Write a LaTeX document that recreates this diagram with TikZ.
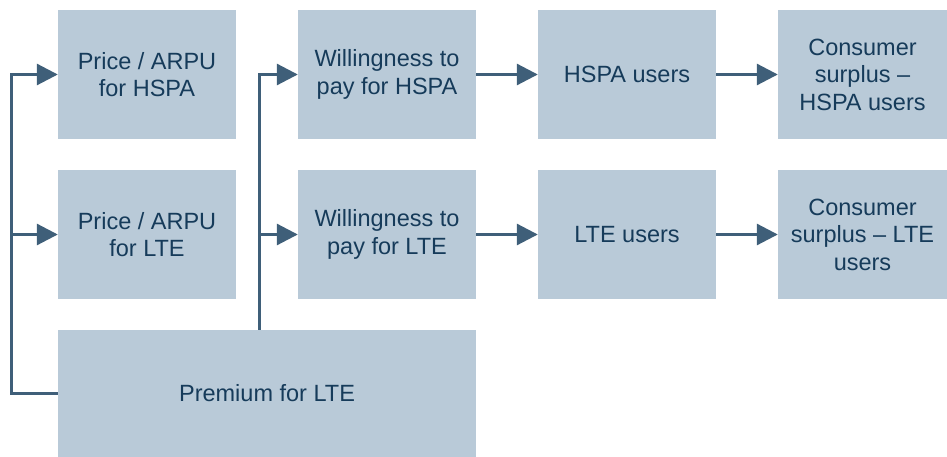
\documentclass[tikz,border=0pt]{standalone}
\usepackage{fontspec}
\setmainfont{Liberation Sans}
\usetikzlibrary{arrows.meta}

\definecolor{boxfill}{HTML}{B9CAD8}
\definecolor{boxtext}{HTML}{163B5A}
\definecolor{linkcol}{HTML}{3F5F79}

\begin{document}
\begin{tikzpicture}
[box/.style={rectangle, fill=boxfill, text=boxtext, inner sep=0pt, align=center,
  minimum width=178pt, minimum height=129pt, font=\fontsize{23.5}{27.5}\selectfont},
 link/.style={line width=3pt, color=linkcol, -{Triangle[length=21pt, width=21pt]}},
 bus/.style={line width=3pt, color=linkcol}]
\useasboundingbox (0pt, 0pt) rectangle (947pt, -457pt);
\node (priceHSPA) [box] at (147.0pt, -74.5pt) {Price / ARPU\\for HSPA};
\node (priceLTE) [box] at (147.0pt, -234.5pt) {Price / ARPU\\for LTE};
\node (premium) [box, minimum width=418pt, minimum height=127pt] at (267.0pt, -393.5pt) {Premium for LTE};
\node (wtpHSPA) [box] at (387.0pt, -74.5pt) {Willingness to\\pay for HSPA};
\node (wtpLTE) [box] at (387.0pt, -234.5pt) {Willingness to\\pay for LTE};
\node (usersHSPA) [box] at (627.0pt, -74.5pt) {HSPA users};
\node (usersLTE) [box] at (627.0pt, -234.5pt) {LTE users};
\node (surplusHSPA) [box, minimum width=169pt] at (862.5pt, -74.5pt) {Consumer\\surplus --\\HSPA users};
\node (surplusLTE) [box, minimum width=169pt] at (862.5pt, -234.5pt) {Consumer\\surplus -- LTE\\users};
\coordinate (leftbus) at (11.0pt, -74.5pt);
\coordinate (midbus) at (259.0pt, -74.5pt);
\draw [link] (premium.west) -| (leftbus) -- (priceHSPA.west);
\draw [link] (leftbus |- priceLTE.west) -- (priceLTE.west);
\draw [link] (premium.north -| midbus) -- (midbus) -- (wtpHSPA.west);
\draw [link] (midbus |- wtpLTE.west) -- (wtpLTE.west);
\draw [link] (wtpHSPA) -- (usersHSPA);
\draw [link] (usersHSPA) -- (surplusHSPA);
\draw [link] (wtpLTE) -- (usersLTE);
\draw [link] (usersLTE) -- (surplusLTE);
\end{tikzpicture}
\end{document}
